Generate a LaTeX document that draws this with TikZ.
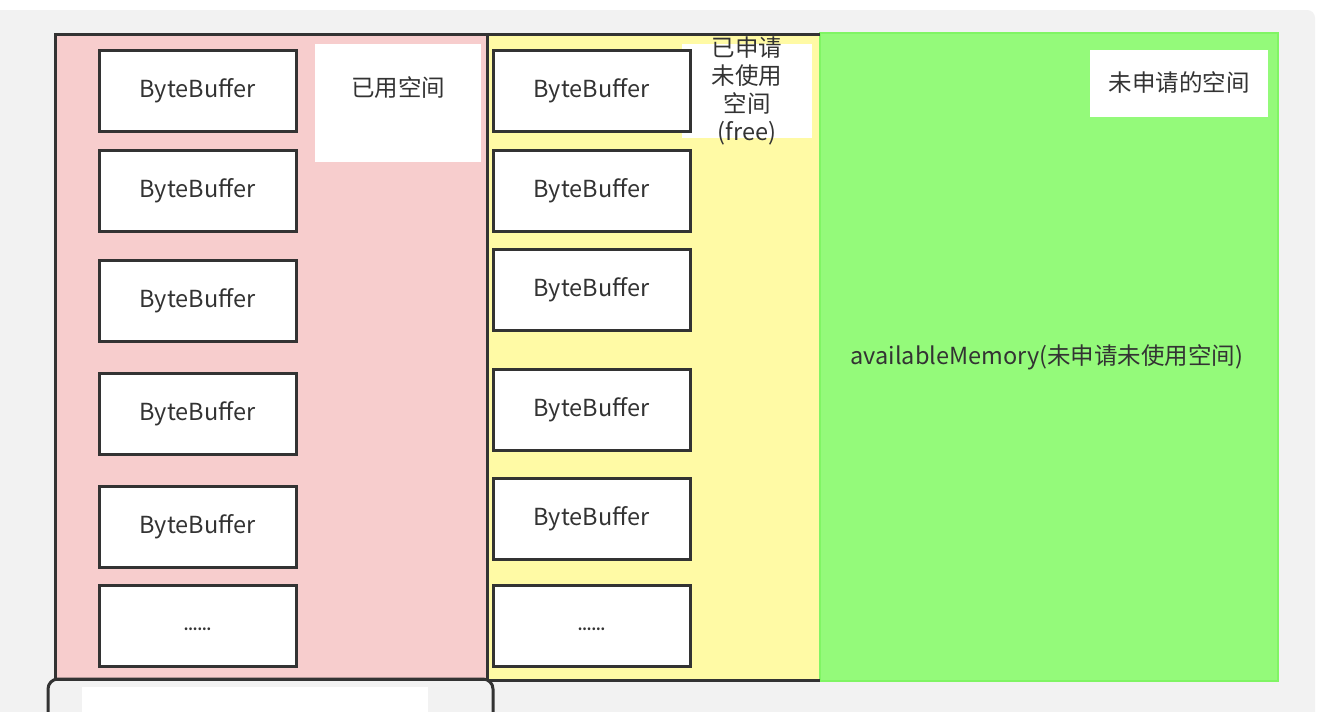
\documentclass[tikz,border=0pt]{standalone}
\usepackage{fontspec}
\setmainfont{Noto Sans CJK SC}
\definecolor{panelgray}{HTML}{F2F2F2}
\definecolor{pinkfill}{RGB}{247,205,205}
\definecolor{yellowfill}{RGB}{255,250,165}
\definecolor{greenfill}{RGB}{148,250,122}
\definecolor{greenedge}{RGB}{128,245,100}
\definecolor{edgegray}{HTML}{333333}
\definecolor{textgray}{HTML}{333333}
\tikzset{
  x=1pt,y=-1pt,
  edge/.style={draw=edgegray,line width=3pt},
  bufbox/.style={edge,fill=white,minimum width=197pt,minimum height=81pt,inner sep=0pt,
     text=textgray,font=\fontsize{23.5}{28}\selectfont},
  labbox/.style={fill=white,inner sep=0pt},
  labtext/.style={text=textgray,font=\fontsize{23.5}{28}\selectfont,align=center,inner sep=0pt},
  dotstext/.style={text=textgray,font=\fontsize{13}{16}\selectfont\bfseries,inner sep=0pt}
}
\begin{document}
\begin{tikzpicture}
\useasboundingbox (0,0) rectangle (1334,712);
\clip (0,0) rectangle (1334,712);
\fill[white] (0,0) rectangle (1334,712);
\fill[panelgray,rounded corners=8pt] (-20,10) rectangle (1315,760);
% regions
\fill[pinkfill] (55,34) rectangle (487,679);
\fill[yellowfill] (487,34) rectangle (820,680);
\fill[greenfill,draw=greenedge,line width=2pt] (820,33) rectangle (1278,681);
\draw[edge] (487,34) -- (820,34);
\draw[edge] (487,680) -- (820,680);
\draw[edge] (55,34) rectangle (487,679);
% bottom partial box
\draw[edge,rounded corners=10pt] (48,760) -- (48,679) -- (493,679) -- (493,760);
\fill[white] (82,687) rectangle (428,760);
% label boxes (behind buffers)
\node[labbox,minimum width=166pt,minimum height=118pt] (usedbox) at (398,103) {};
\node[labbox,minimum width=130pt,minimum height=94pt] (freebox) at (747,91) {};
\node[labbox,minimum width=178pt,minimum height=67pt] (unbox) at (1179,83.5) {};
% left column buffers
\node[bufbox] (l1) at (197.5,90.5) {ByteBuffer};
\node[bufbox] (l2) at (197.5,190.5) {ByteBuffer};
\node[bufbox] (l3) at (197.5,300.5) {ByteBuffer};
\node[bufbox] (l4) at (197.5,413.5) {ByteBuffer};
\node[bufbox] (l5) at (197.5,526.5) {ByteBuffer};
\node[bufbox] (l6) at (197.5,626) {};
\node[dotstext] (l6d) at (197.5,629) {......};
% middle column buffers
\node[bufbox] (m1) at (591.5,90.5) {ByteBuffer};
\node[bufbox] (m2) at (591.5,190.5) {ByteBuffer};
\node[bufbox] (m3) at (591.5,289.5) {ByteBuffer};
\node[bufbox] (m4) at (591.5,409.5) {ByteBuffer};
\node[bufbox] (m5) at (591.5,518.5) {ByteBuffer};
\node[bufbox] (m6) at (591.5,626) {};
\node[dotstext] (m6d) at (591.5,629) {......};
% label texts
\node[labtext] (usedtext) at (398,88) {已用空间};
\node[labtext] (freetext) at (747,91) {已申请\\未使用\\空间\\(free)};
\node[labtext] (untext) at (1179,82) {未申请的空间};
\node[labtext] (avail) at (1047,357) {availableMemory(未申请未使用空间)};
\end{tikzpicture}
\end{document}
